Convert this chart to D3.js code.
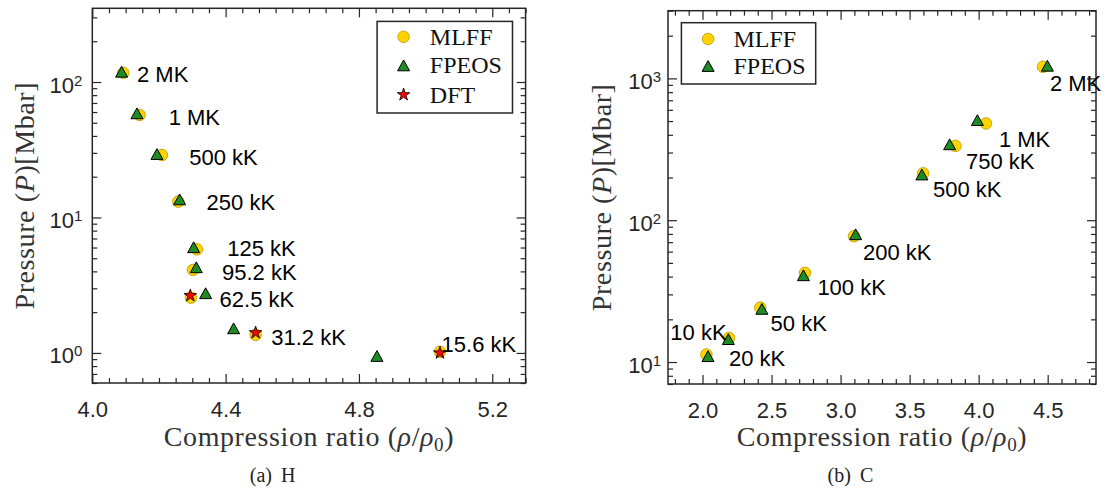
<!DOCTYPE html>
<html><head><meta charset="utf-8">
<script src="https://cdn.jsdelivr.net/npm/d3@7"></script>
<style>
html,body{margin:0;padding:0;background:#fff;}
svg{display:block;}
</style></head><body>
<svg id="c" width="1104" height="493"></svg>
<script>
// ---------- Panel (a): H ----------
const hTemps  = ["2 MK","1 MK","500 kK","250 kK","125 kK","95.2 kK","62.5 kK","31.2 kK","15.6 kK"];
const hMlffX  = [4.093, 4.142, 4.209, 4.258, 4.314, 4.302, 4.296, 4.490, 5.043];
const hMlffP  = [117, 57.1, 28.9, 13.1, 5.82, 4.10, 2.56, 1.36, 1.02];
const hFpeosX = [4.088, 4.134, 4.194, 4.262, 4.304, 4.312, 4.340, 4.424, 4.854];
const hFpeosP = [119, 58.7, 29.4, 13.6, 6.03, 4.29, 2.76, 1.52, 0.95];
const hDftX   = [4.294, 4.490, 5.043];
const hDftP   = [2.65, 1.41, 1.0];
const hLabelX = [4.134, 4.229, 4.291, 4.343, 4.405, 4.389, 4.382, 4.537, 5.048];
const hLabelP = [115, 54.9, 28.1, 12.9, 5.93, 3.94, 2.49, 1.32, 1.165];
const hXTicks = [4.0, 4.4, 4.8, 5.2];
const hYTicks = [1, 10, 100];
const hYExp   = ["0", "1", "2"];

// ---------- Panel (b): C ----------
const cTemps  = ["2 MK","1 MK","750 kK","500 kK","200 kK","100 kK","50 kK","10 kK","20 kK"];
const cMlffX  = [4.466, 4.053, 3.832, 3.598, 3.097, 2.742, 2.418, 2.192, 2.028];
const cMlffP  = [1207, 481, 334, 214, 77.1, 42.5, 24.2, 14.8, 11.3];
const cFpeosX = [4.498, 3.991, 3.790, 3.589, 3.109, 2.731, 2.430, 2.187, 2.040];
const cFpeosP = [1227, 508, 343, 210, 79.6, 40.9, 23.7, 14.5, 11.0];
const cLabelX = [4.516, 4.147, 3.908, 3.669, 3.162, 2.832, 2.493, 1.767, 2.192];
const cLabelP = [931, 373, 261, 167, 59.7, 33.5, 18.7, 16.3, 10.7];
const cXTicks = [2.0, 2.5, 3.0, 3.5, 4.0, 4.5];
const cYTicks = [10, 100, 1000];
const cYExp   = ["1", "2", "3"];

const legendNames = ["MLFF", "FPEOS", "DFT"];

// ---------- styles ----------
const FRAME = "#262626";
const SANS = "'Liberation Sans', Arial, Helvetica, sans-serif";
const SERIF = "'Liberation Serif', 'Times New Roman', serif";
const C_FILL = "#ffd200", C_EDGE = "#b89a00";
const T_FILL = "#1f8b24", T_EDGE = "#000";
const S_FILL = "#ff0000", S_EDGE = "#000";

const svg = d3.select("#c");
svg.append("rect").attr("width",1104).attr("height",493).attr("fill","#fff");

const triUp = { draw(ctx, size) {
  const s = Math.sqrt(size) / 2, h = s * 0.9;
  ctx.moveTo(0, -h); ctx.lineTo(s, h); ctx.lineTo(-s, h); ctx.closePath();
}};
const circleSym = d3.symbol().type(d3.symbolCircle).size(Math.PI * 5.8 * 5.8);
const triSym = d3.symbol().type(triUp).size(144);
const starSym = d3.symbol().type(d3.symbolStar).size(50);

function styleAxis(sel) {
  sel.select(".domain").remove();
  sel.selectAll(".tick line").attr("stroke", FRAME).attr("stroke-width", 1.2);
  sel.attr("font-family", SANS).attr("font-size", 22);
  sel.selectAll(".tick text").attr("fill", FRAME);
}

function drawPanel(o) {
  const g = svg.append("g");
  const x = d3.scaleLinear().domain(o.xDomain).range([o.left, o.right]);
  const y = d3.scaleLog().domain(o.yDomain).range([o.bottom, o.top]);

  const n0 = Math.round(o.xDomain[0] / o.xMinorStep), n1 = Math.round(o.xDomain[1] / o.xMinorStep);
  const xMinor = d3.range(n0, n1 + 1).map(i => +(i * o.xMinorStep).toFixed(4))
    .filter(v => !o.xTicks.some(t => Math.abs(t - v) < 1e-6) && v >= o.xDomain[0] - 1e-9 && v <= o.xDomain[1] + 1e-9);
  const yMinor = y.ticks().filter(v => !o.yTicks.includes(v));

  // bottom
  g.append("g").attr("transform", `translate(0,${o.bottom})`)
    .call(d3.axisBottom(x).tickValues(o.xTicks).tickSize(-9).tickPadding(18).tickFormat(d3.format(".1f")))
    .call(styleAxis);
  g.append("g").attr("transform", `translate(0,${o.bottom})`)
    .call(d3.axisBottom(x).tickValues(xMinor).tickSize(-5).tickFormat(""))
    .call(styleAxis);
  // top
  g.append("g").attr("transform", `translate(0,${o.top})`)
    .call(d3.axisTop(x).tickValues(o.xTicks).tickSize(-9).tickFormat(""))
    .call(styleAxis);
  g.append("g").attr("transform", `translate(0,${o.top})`)
    .call(d3.axisTop(x).tickValues(xMinor).tickSize(-5).tickFormat(""))
    .call(styleAxis);
  // left
  const la = g.append("g").attr("transform", `translate(${o.left},0)`)
    .call(d3.axisLeft(y).tickValues(o.yTicks).tickSize(-9).tickPadding(o.yPad))
    .call(styleAxis);
  la.selectAll(".tick text").each(function(d, i) {
    const t = d3.select(this);
    t.text(null).attr("dy", 10);
    t.append("tspan").text("10");
    t.append("tspan").attr("font-size", 15).attr("dy", -7).text(o.yExp[i]);
  });
  g.append("g").attr("transform", `translate(${o.left},0)`)
    .call(d3.axisLeft(y).tickValues(yMinor).tickSize(-5).tickFormat(""))
    .call(styleAxis);
  // right
  g.append("g").attr("transform", `translate(${o.right},0)`)
    .call(d3.axisRight(y).tickValues(o.yTicks).tickSize(-9).tickFormat(""))
    .call(styleAxis);
  g.append("g").attr("transform", `translate(${o.right},0)`)
    .call(d3.axisRight(y).tickValues(yMinor).tickSize(-5).tickFormat(""))
    .call(styleAxis);

  // frame
  g.append("rect").attr("x", o.left).attr("y", o.top)
    .attr("width", o.right - o.left).attr("height", o.bottom - o.top)
    .attr("fill", "none").attr("stroke", FRAME).attr("stroke-width", 1.5);

  // markers
  g.append("g").selectAll("path").data(d3.range(o.mlffX.length)).join("path")
    .attr("d", circleSym).attr("transform", i => `translate(${x(o.mlffX[i])},${y(o.mlffP[i])})`)
    .attr("fill", C_FILL).attr("stroke", C_EDGE).attr("stroke-width", 0.8);
  g.append("g").selectAll("path").data(d3.range(o.fpeosX.length)).join("path")
    .attr("d", triSym).attr("transform", i => `translate(${x(o.fpeosX[i])},${y(o.fpeosP[i])})`)
    .attr("fill", T_FILL).attr("stroke", T_EDGE).attr("stroke-width", 1);
  if (o.dftX) {
    g.append("g").selectAll("path").data(d3.range(o.dftX.length)).join("path")
      .attr("d", starSym).attr("transform", i => `translate(${x(o.dftX[i])},${y(o.dftP[i])})`)
      .attr("fill", S_FILL).attr("stroke", S_EDGE).attr("stroke-width", 0.8);
  }

  // temperature labels
  g.append("g").selectAll("text").data(d3.range(o.temps.length)).join("text")
    .attr("x", i => x(o.labelX[i])).attr("y", i => y(o.labelP[i])).attr("dy", "0.36em")
    .attr("font-family", SANS).attr("font-size", 22).attr("fill", "#000")
    .text(i => o.temps[i]);

  // legend
  const lg = g.append("g");
  lg.append("rect").attr("x", o.leg.x0).attr("y", o.leg.y0)
    .attr("width", o.leg.x1 - o.leg.x0).attr("height", o.leg.y1 - o.leg.y0)
    .attr("fill", "#fff").attr("stroke", FRAME).attr("stroke-width", 1.5);
  const syms = [
    {sym: circleSym, fill: C_FILL, stroke: C_EDGE, sw: 0.8},
    {sym: triSym, fill: T_FILL, stroke: T_EDGE, sw: 1},
    {sym: starSym, fill: S_FILL, stroke: S_EDGE, sw: 0.8}
  ];
  o.leg.ys.forEach((yy, i) => {
    const s = syms[i];
    lg.append("path").attr("d", s.sym).attr("transform", `translate(${o.leg.mx},${yy})`)
      .attr("fill", s.fill).attr("stroke", s.stroke).attr("stroke-width", s.sw);
    lg.append("text").attr("x", o.leg.tx).attr("y", yy + 8)
      .attr("font-family", SERIF).attr("font-size", 24).attr("fill", "#111")
      .text(legendNames[i]);
  });

  // axis labels
  const xl = g.append("text").attr("x", (o.left + o.right) / 2).attr("y", 446)
    .attr("text-anchor", "middle").attr("font-family", SERIF).attr("font-size", 28)
    .attr("fill", "#333").attr("letter-spacing", 0.6);
  xl.append("tspan").text("Compression ratio (");
  xl.append("tspan").attr("font-style", "italic").text("ρ");
  xl.append("tspan").text("/");
  xl.append("tspan").attr("font-style", "italic").text("ρ");
  xl.append("tspan").attr("font-size", 19).attr("dy", 5).text("0");
  xl.append("tspan").attr("dy", -5).text(")");

  const yl = g.append("text")
    .attr("transform", `translate(${o.yLabelX},${(o.top + o.bottom) / 2}) rotate(-90)`)
    .attr("text-anchor", "middle").attr("font-family", SERIF).attr("font-size", 28)
    .attr("fill", "#333").attr("letter-spacing", 0.6);
  yl.append("tspan").text("Pressure (");
  yl.append("tspan").attr("font-style", "italic").text("P");
  yl.append("tspan").text(")[Mbar]");

  // caption
  g.append("text").attr("x", o.capX).attr("y", 482).attr("text-anchor", "middle")
    .attr("font-family", SERIF).attr("font-size", 20).attr("fill", "#222")
    .attr("word-spacing", 4).text(o.caption);
}

drawPanel({
  left: 92.3, right: 525.6, top: 8.3, bottom: 383,
  xDomain: [4.0, 5.3], yDomain: [0.6, 350], xTicks: hXTicks, xMinorStep: 0.05,
  yTicks: hYTicks, yExp: hYExp, yPad: 10,
  temps: hTemps, mlffX: hMlffX, mlffP: hMlffP, fpeosX: hFpeosX, fpeosP: hFpeosP,
  dftX: hDftX, dftP: hDftP, labelX: hLabelX, labelP: hLabelP,
  leg: {x0: 377.1, x1: 512.5, y0: 21.4, y1: 113, mx: 403.6, tx: 429.8, ys: [36.8, 65.4, 94.7]},
  yLabelX: 34, capX: 272.6, caption: "(a) H"
});
drawPanel({
  left: 668, right: 1096, top: 10.7, bottom: 384,
  xDomain: [1.75, 4.85], yDomain: [7, 3000], xTicks: cXTicks, xMinorStep: 0.1,
  yTicks: cYTicks, yExp: cYExp, yPad: 7,
  temps: cTemps, mlffX: cMlffX, mlffP: cMlffP, fpeosX: cFpeosX, fpeosP: cFpeosP,
  dftX: null, dftP: null, labelX: cLabelX, labelP: cLabelP,
  leg: {x0: 681.4, x1: 815.7, y0: 22.7, y1: 84, mx: 708.1, tx: 733.5, ys: [39, 66]},
  yLabelX: 611, capX: 850.4, caption: "(b) C"
});
</script>
</body></html>
